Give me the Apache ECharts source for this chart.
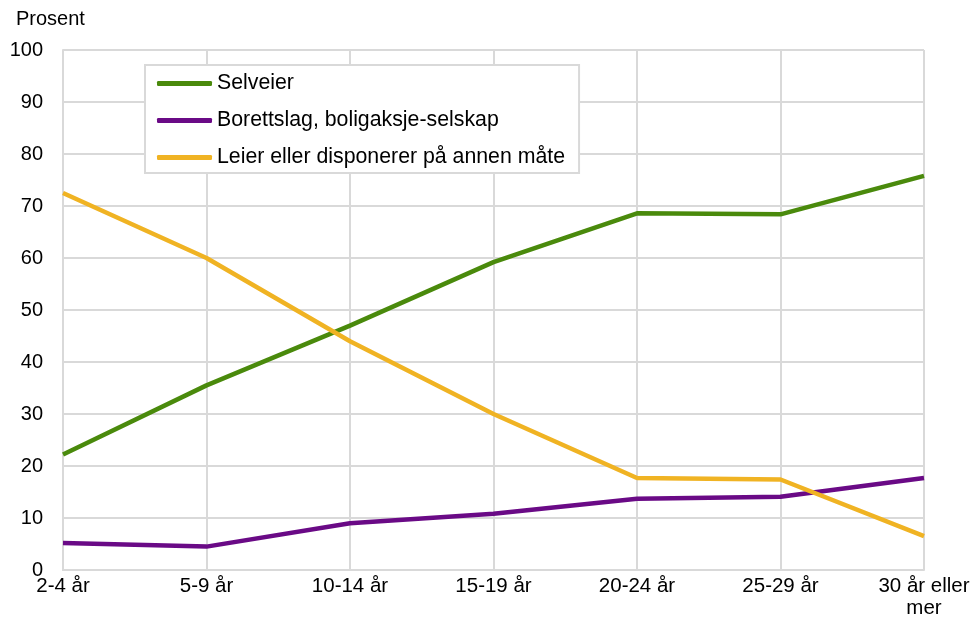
<!DOCTYPE html>
<html>
<head>
<meta charset="utf-8">
<script src="https://cdn.jsdelivr.net/npm/echarts@6/dist/echarts.min.js"></script>
<style>
  html, body { margin: 0; padding: 0; background: #fff; }
  #chart { width: 972px; height: 619px; }
</style>
</head>
<body>
<div id="chart"></div>
<script>
var categories = ['2-4 år', '5-9 år', '10-14 år', '15-19 år', '20-24 år', '25-29 år', '30 år eller\nmer'];
var selveier = [22.2, 35.5, 47.0, 59.2, 68.6, 68.4, 75.8];
var borettslag = [5.2, 4.5, 9.0, 10.8, 13.7, 14.1, 17.7];
var leier = [72.5, 60.0, 44.0, 30.0, 17.7, 17.4, 6.5];
var yTicks = [0, 10, 20, 30, 40, 50, 60, 70, 80, 90, 100];

var fnt = 'Liberation Sans, Arial, sans-serif';
var gridColor = '#d9d9d9';

var myChart = echarts.init(document.getElementById('chart'));
var option = {
	animation: false,
	textStyle: { fontFamily: fnt },
	grid: { left: 63, right: 48, top: 50, bottom: 49, containLabel: false, outerBoundsMode: 'none' },
	graphic: [{
		type: 'text',
		left: 16,
		top: 9,
		style: { text: 'Prosent', font: '20px ' + fnt, fill: '#000' }
	}],
	legend: {
		orient: 'vertical',
		left: 145,
		top: 65,
		padding: [8, 14, 5, 12],
		itemGap: 16,
		itemWidth: 55,
		itemHeight: 5,
		icon: 'roundRect',
		backgroundColor: '#fff',
		borderColor: gridColor,
		borderWidth: 2,
		textStyle: { fontSize: 21.3, color: '#000', fontFamily: fnt, padding: [0, 0, 0, 0] },
		data: ['Selveier', 'Borettslag, boligaksje-selskap', 'Leier eller disponerer på annen måte']
	},
	xAxis: {
		type: 'category',
		boundaryGap: false,
		data: categories,
		axisLine: { lineStyle: { color: gridColor, width: 2 } },
		axisTick: { show: false },
		splitLine: { show: true, lineStyle: { color: gridColor, width: 2 } },
		axisLabel: { color: '#000', fontSize: 20.5, margin: 5, interval: 0, lineHeight: 22 }
	},
	yAxis: {
		type: 'value',
		min: yTicks[0],
		max: yTicks[yTicks.length - 1],
		interval: 10,
		axisLine: { show: true, lineStyle: { color: gridColor, width: 2 } },
		axisTick: { show: false },
		splitLine: { lineStyle: { color: gridColor, width: 2 } },
		axisLabel: { color: '#000', fontSize: 20, margin: 20 }
	},
	series: [
		{
			name: 'Selveier',
			type: 'line',
			data: selveier,
			symbol: 'none',
			lineStyle: { width: 4.5, color: '#4a8a0c' },
			itemStyle: { color: '#4a8a0c' }
		},
		{
			name: 'Borettslag, boligaksje-selskap',
			type: 'line',
			data: borettslag,
			symbol: 'none',
			lineStyle: { width: 4.5, color: '#6a0a86' },
			itemStyle: { color: '#6a0a86' }
		},
		{
			name: 'Leier eller disponerer på annen måte',
			type: 'line',
			data: leier,
			symbol: 'none',
			lineStyle: { width: 4.5, color: '#f0b323' },
			itemStyle: { color: '#f0b323' }
		}
	]
};
myChart.setOption(option);
</script>
</body>
</html>
